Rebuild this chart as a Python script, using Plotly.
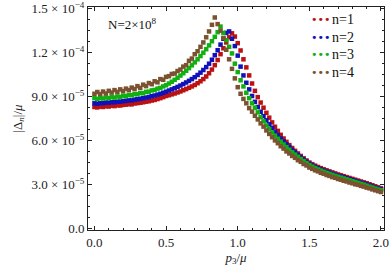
import numpy as np
import plotly.graph_objects as go

# x positions p3/mu
p3 = [round(0.02 * i, 2) for i in range(101)]

# |Delta_n|/mu in units of 1e-5
n1 = [8.30, 8.27, 8.32, 8.30, 8.35, 8.33, 8.38, 8.36, 8.41, 8.40, 8.44, 8.46, 8.49, 8.48, 8.54, 8.56, 8.59, 8.62, 8.66, 8.69, 8.74, 8.78, 8.84, 8.90, 8.97, 9.05,
      9.10, 9.16, 9.22, 9.29, 9.36, 9.44, 9.52, 9.61, 9.70, 9.80, 9.92, 10.05, 10.20, 10.38, 10.60, 10.85, 11.15, 11.50, 11.90, 12.30, 12.70, 13.05, 13.32,
      13.10, 12.65, 12.15, 11.55, 11.00, 10.45, 9.90, 9.40, 8.97, 8.60, 8.25, 7.90, 7.57, 7.25, 6.95, 6.67, 6.40, 6.15, 5.92, 5.70, 5.50, 5.31, 5.13, 4.96, 4.80, 4.65, 4.51,
      4.40, 4.30, 4.21, 4.13, 4.05, 3.98, 3.91, 3.84, 3.77, 3.70, 3.64, 3.58, 3.52, 3.46, 3.40, 3.34, 3.28, 3.22, 3.16, 3.10, 3.03, 2.96, 2.89, 2.82, 2.75]
n2 = [8.55, 8.52, 8.57, 8.56, 8.60, 8.59, 8.63, 8.62, 8.66, 8.66, 8.70, 8.72, 8.75, 8.75, 8.80, 8.83, 8.86, 8.90, 8.94, 8.98, 9.03, 9.08, 9.14, 9.20, 9.27, 9.34,
      9.42, 9.50, 9.58, 9.67, 9.76, 9.86, 9.97, 10.08, 10.20, 10.33, 10.48, 10.64, 10.82, 11.02, 11.25, 11.52, 11.83, 12.17, 12.55, 12.95, 13.35,
      13.45, 12.95, 12.45, 11.80, 11.05, 10.45, 9.95, 9.50, 9.05, 8.65, 8.30, 7.97, 7.67, 7.39, 7.12, 6.87, 6.62, 6.38, 6.15, 5.95, 5.76, 5.57, 5.38, 5.20, 5.03, 4.87, 4.72, 4.57, 4.43,
      4.31, 4.21, 4.12, 4.04, 3.96, 3.89, 3.82, 3.75, 3.68, 3.62, 3.56, 3.50, 3.44, 3.38, 3.32, 3.26, 3.20, 3.14, 3.08, 3.01, 2.94, 2.87, 2.80, 2.74, 2.69]
n3 = [8.90, 8.85, 8.93, 8.88, 8.95, 8.90, 8.98, 8.94, 9.02, 8.98, 9.07, 9.04, 9.12, 9.10, 9.18, 9.17, 9.25, 9.24, 9.33, 9.34, 9.43, 9.46, 9.55, 9.60, 9.70, 9.78,
      9.90, 10.02, 10.15, 10.29, 10.44, 10.60, 10.77, 10.95, 11.14, 11.34, 11.55, 11.77, 12.00, 12.24, 12.50, 12.78, 13.08, 13.40, 13.78,
      13.35, 12.85, 12.40, 11.95, 11.25, 10.68, 10.12, 9.70, 9.27, 8.90, 8.55, 8.25, 7.93, 7.60, 7.32, 7.04, 6.79, 6.56, 6.34, 6.13, 5.93, 5.74, 5.56, 5.38, 5.21, 5.05, 4.90, 4.75, 4.61, 4.47, 4.34,
      4.23, 4.13, 4.04, 3.96, 3.88, 3.81, 3.74, 3.67, 3.60, 3.54, 3.48, 3.42, 3.36, 3.30, 3.24, 3.18, 3.12, 3.06, 3.00, 2.93, 2.86, 2.80, 2.73, 2.67, 2.62]
n4 = [9.20, 9.32, 9.18, 9.35, 9.22, 9.40, 9.28, 9.45, 9.33, 9.50, 9.38, 9.55, 9.45, 9.62, 9.52, 9.72, 9.60, 9.82, 9.72, 9.93, 9.85, 10.05, 9.98, 10.20, 10.15, 10.35,
      10.40, 10.55, 10.58, 10.75, 10.85, 11.05, 11.15, 11.45, 11.60, 11.90, 12.10, 12.40, 12.70, 13.05, 13.45, 13.90, 14.40,
      13.95, 13.50, 13.00, 12.20, 11.55, 10.90, 10.25, 9.65, 9.20, 8.85, 8.55, 8.22, 7.98, 7.70, 7.45, 7.18, 6.96,
      6.70, 6.46, 6.24, 6.02, 5.83, 5.62, 5.46, 5.27, 5.13, 4.96, 4.83, 4.67, 4.56, 4.41, 4.31, 4.17,
      4.08, 3.98, 3.91, 3.81, 3.75, 3.66, 3.60, 3.52, 3.47, 3.39, 3.34, 3.27, 3.22, 3.15, 3.10, 3.03, 2.99, 2.92, 2.87, 2.80, 2.75, 2.68, 2.62, 2.56, 2.50]

series_names = ["n=1", "n=2", "n=3", "n=4"]
series_colors = ["#bb1111", "#1111bb", "#11b011", "#7a5230"]

y_tickvals = [0.0, 3.0e-5, 6.0e-5, 9.0e-5, 1.2e-4, 1.5e-4]
y_ticktext = ["0.0", "3.0 × 10<sup>−5</sup>", "6.0 × 10<sup>−5</sup>", "9.0 × 10<sup>−5</sup>",
              "1.2 × 10<sup>−4</sup>", "1.5 × 10<sup>−4</sup>"]
x_tickvals = [0.0, 0.5, 1.0, 1.5, 2.0]
x_ticktext = ["0.0", "0.5", "1.0", "1.5", "2.0"]

FONT = "Liberation Serif"

fig = go.Figure()
for name, vals, col in zip(series_names, [n1, n2, n3, n4], series_colors):
    fig.add_trace(go.Scatter(
        x=p3, y=[v * 1e-5 for v in vals], mode="markers", name=name,
        marker=dict(symbol="square", size=4.5, color=col, line=dict(width=0)),
        showlegend=False))

# legend drawn as text (three dots + label)
legend_y = [20, 37.5, 55, 72.5]
for name, col, yy in zip(series_names, series_colors, legend_y):
    fig.add_annotation(xref="paper", yref="paper",
                       x=(320 - 88) / 296, y=1 - (yy - 7) / 223,
                       text="•••",
                       showarrow=False, font=dict(color=col, size=11, family="DejaVu Sans"),
                       xanchor="center", yanchor="middle")
    fig.add_annotation(xref="paper", yref="paper",
                       x=(330 - 88) / 296, y=1 - (yy - 7) / 223,
                       text=name, showarrow=False,
                       font=dict(color="#111", size=14, family=FONT),
                       xanchor="left", yanchor="middle")

fig.add_annotation(xref="paper", yref="paper",
                   x=(106 - 88) / 296, y=1 - (24 - 7) / 223,
                   text="N=2×10<sup>8</sup>", showarrow=False,
                   font=dict(color="#111", size=13, family=FONT),
                   xanchor="left", yanchor="middle")

axis_common = dict(showline=True, linecolor="#222", linewidth=1, mirror="allticks",
                   ticks="inside", ticklen=4, tickcolor="#222", tickwidth=1,
                   showgrid=False, zeroline=False, ticklabeloverflow="allow",
                   tickfont=dict(family=FONT, size=13, color="#222"))

fig.update_xaxes(range=[-0.045, 2.021], tickmode="array", tickvals=x_tickvals,
                 ticktext=x_ticktext,
                 minor=dict(ticks="inside", ticklen=2, dtick=0.1, tick0=0, tickcolor="#222"),
                 title=dict(text="<i>p</i><sub>3</sub>/<i>μ</i>", standoff=3,
                            font=dict(family=FONT, size=13, color="#222")),
                 **axis_common)
fig.update_yaxes(range=[-0.89e-6, 1.5116e-4], tickmode="array", tickvals=y_tickvals,
                 ticktext=y_ticktext,
                 minor=dict(ticks="inside", ticklen=2, dtick=7.5e-6, tick0=0, tickcolor="#222"),
                 title=dict(text="|Δ<sub><i>n</i></sub>|/<i>μ</i>", standoff=6,
                            font=dict(family=FONT, size=13, color="#222")),
                 **axis_common)

fig.update_layout(width=390, height=269, margin=dict(l=88, r=6, t=7, b=39, autoexpand=False),
                  plot_bgcolor="white", paper_bgcolor="white", showlegend=False)

fig.write_html("out.html", config={"displayModeBar": False},
               post_script="document.body.style.margin='0px';")
